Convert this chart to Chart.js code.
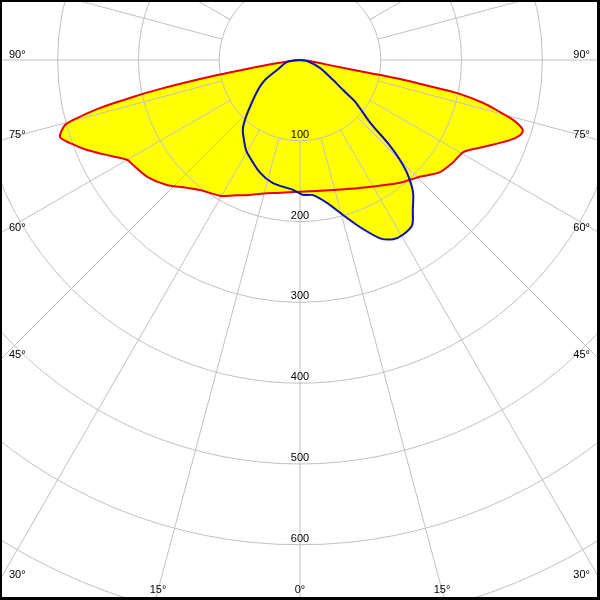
<!DOCTYPE html>
<html>
<head>
<meta charset="utf-8">
<script src="https://cdn.jsdelivr.net/npm/chart.js@4.4.1/dist/chart.umd.min.js"></script>
<style>
  html, body { margin: 0; padding: 0; background: #fff; }
  canvas { display: block; }
</style>
</head>
<body>
<canvas id="polar" width="600" height="600"></canvas>
<script>
// gamma in degrees from nadir, negative = left half of the plane; values in cd
const redAngles = [-90, -85, -81.5, -80, -79.2, -78.2, -77.5, -76.5, -75.4, -74.5, -72.2, -70.2, -67.1, -63.2, -60, -57.8,
  -52.6, -46.8, -41.4, -37.6, -30.5, -26.3, -20.3, -14, -9.8, 0, 14.2, 21.2, 27.8, 34.8, 39.2, 43.5, 45.7, 51.3, 56.3,
  60.6, 64.6, 69.1, 71.2, 72.6, 74.3, 75.4, 76.8, 78.1, 78.5, 79.2, 79.4, 80, 84, 90];
const redValues = [0, 4, 40, 84, 126, 181, 212, 255, 285, 302, 312, 303, 286, 263, 247, 244,
  238, 226, 211, 203, 195, 187, 178, 170, 167, 163, 166, 171, 178, 188, 196, 203, 207, 222, 228,
  232, 251, 278, 288, 289, 274, 256, 233, 199, 168, 126, 84, 42, 10, 0];

const blueAngles = [-90, -82, -66.5, -60.3, -54.5, -46.8, -42.5, -39.2, -32.3, -29.7, -19.5, -12.4, -3.1, 1.3, 5.5,
  10.7, 15.5, 19.8, 24.2, 27.5, 30.5, 34.2, 37, 40.4, 43.2, 45, 46.5, 48.2, 53, 55.1, 58.8, 68.2, 82, 90];
const blueValues = [0, 16, 31, 50, 64, 85, 101, 112, 127, 132, 148, 156, 161, 167, 168,
  180, 199, 220, 242, 250, 251, 247, 232, 216, 195, 175, 152, 117, 85, 65, 48, 27, 9, 0];

const ringValues = [100, 200, 300, 400, 500, 600, 700];
const ringLabels = ['100', '200', '300', '400', '500', '600'];
const sideAngleLabels = [90, 75, 60, 45, 30];
const bottomAngleLabels = [-15, 0, 15];

const PX_PER_CD = 0.808;
const GRID = '#c0c0c0';
const FONT = '11px "Liberation Sans", Arial, sans-serif';

function toXY(angles, values) {
  return angles.map((g, i) => {
    const a = g * Math.PI / 180;
    return { x: values[i] * Math.sin(a), y: -values[i] * Math.cos(a) };
  });
}

const gridPlugin = {
  id: 'polarGrid',
  beforeDatasetsDraw(chart) {
    const { ctx, scales: { x, y } } = chart;
    const cx = x.getPixelForValue(0);
    const cy = y.getPixelForValue(0);
    const rad = v => x.getPixelForValue(v) - cx;

    ctx.save();
    ctx.strokeStyle = GRID;
    ctx.lineWidth = 1;
    ringValues.forEach(v => {
      ctx.beginPath();
      ctx.arc(cx, cy, rad(v), 0, Math.PI * 2);
      ctx.stroke();
    });
    for (let g = 0; g < 360; g += 15) {
      const a = g * Math.PI / 180;
      const r0 = rad(100), r1 = rad(1000);
      ctx.beginPath();
      ctx.moveTo(cx + r0 * Math.sin(a), cy + r0 * Math.cos(a));
      ctx.lineTo(cx + r1 * Math.sin(a), cy + r1 * Math.cos(a));
      ctx.stroke();
    }

    ctx.fillStyle = '#000';
    ctx.font = FONT;
    ctx.textBaseline = 'alphabetic';
    ctx.textAlign = 'center';
    ringLabels.forEach((t, i) => {
      ctx.fillText(t, cx, cy + rad(ringValues[i]) - 3);
    });

    const w = chart.width;
    sideAngleLabels.forEach(g => {
      const a = g * Math.PI / 180;
      const yHit = cy + cx / Math.tan(a);
      ctx.textAlign = 'left';
      ctx.fillText(g + '°', 9, yHit - 2);
      ctx.textAlign = 'right';
      ctx.fillText(g + '°', w - 10, yHit - 2);
    });
    ctx.textAlign = 'center';
    bottomAngleLabels.forEach(g => {
      const a = g * Math.PI / 180;
      const xHit = cx + (590 - cy) * Math.tan(a);
      ctx.fillText(Math.abs(g) + '°', xHit, 593);
    });
    ctx.restore();
  },
  afterDraw(chart) {
    const { ctx, width, height } = chart;
    ctx.save();
    ctx.fillStyle = '#000';
    ctx.fillRect(0, 0, width, 2);
    ctx.fillRect(0, 0, 2, height);
    ctx.fillRect(width - 3, 0, 3, height);
    ctx.fillRect(0, height - 3, width, 3);
    ctx.restore();
  }
};

new Chart(document.getElementById('polar'), {
  type: 'scatter',
  data: {
    datasets: [
      {
        label: 'C90-C270',
        data: toXY(blueAngles, blueValues),
        showLine: true,
        borderColor: '#0a10b0',
        borderWidth: 2,
        backgroundColor: '#ffff00',
        fill: 'shape',
        pointRadius: 0,
        tension: 0.25
      },
      {
        label: 'C0-C180',
        data: toXY(redAngles, redValues),
        showLine: true,
        borderColor: '#e80000',
        borderWidth: 2,
        backgroundColor: '#ffff00',
        fill: 'shape',
        pointRadius: 0,
        tension: 0.25
      }
    ]
  },
  options: {
    responsive: false,
    animation: false,
    devicePixelRatio: 1,
    layout: { padding: 0 },
    plugins: {
      legend: { display: false },
      tooltip: { enabled: false },
      filler: { drawTime: 'beforeDatasetsDraw' }
    },
    scales: {
      x: { type: 'linear', display: false, min: -300 / PX_PER_CD, max: 300 / PX_PER_CD },
      y: { type: 'linear', display: false, min: -540 / PX_PER_CD, max: 60 / PX_PER_CD }
    }
  },
  plugins: [gridPlugin]
});
</script>
</body>
</html>
